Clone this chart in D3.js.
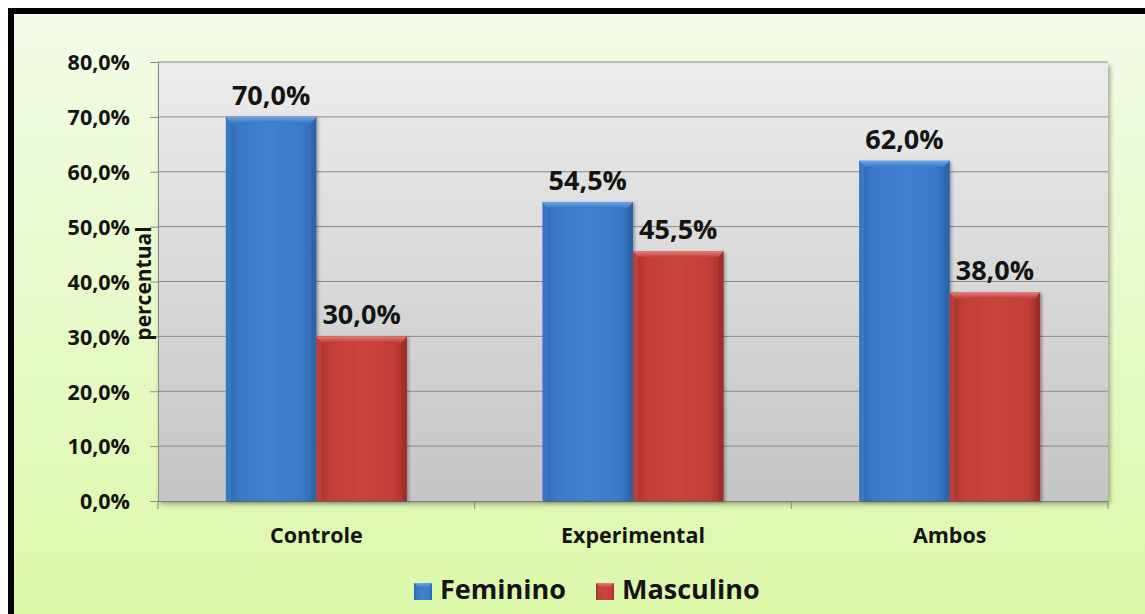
<!DOCTYPE html>
<html>
<head>
<meta charset="utf-8">
<script src="https://cdn.jsdelivr.net/npm/d3@7"></script>
<style>
  html, body { margin: 0; padding: 0; background: #ffffff; }
  svg { display: block; }
  text { font-family: "Open Sans", "DejaVu Sans", sans-serif; font-weight: 700; fill: #141414; }
</style>
</head>
<body>
<svg id="chart" width="1145" height="614"></svg>
<script>
// Percentages by group and sex
const categories = ["Controle", "Experimental", "Ambos"];
const seriesNames = ["Feminino", "Masculino"];
const feminino = [70.0, 54.5, 62.0];
const masculino = [30.0, 45.5, 38.0];
const yTicks = [0, 10, 20, 30, 40, 50, 60, 70, 80];

const seriesValues = [feminino, masculino];
const fmt = v => v.toFixed(1).replace(".", ",") + "%";

const W = 1145, H = 614;
const plot = { left: 158, top: 62, right: 1108, bottom: 501 };

const svg = d3.select("#chart");
const defs = svg.append("defs");

// Background gradients
const bg = defs.append("linearGradient").attr("id", "bgGrad").attr("x1", 0).attr("y1", 0).attr("x2", 0).attr("y2", 1);
bg.append("stop").attr("offset", "0%").attr("stop-color", "#f3fce9");
bg.append("stop").attr("offset", "100%").attr("stop-color", "#dbf8a8");

const pg = defs.append("linearGradient").attr("id", "plotGrad").attr("x1", 0).attr("y1", 0).attr("x2", 0).attr("y2", 1);
pg.append("stop").attr("offset", "0%").attr("stop-color", "#ececec");
pg.append("stop").attr("offset", "100%").attr("stop-color", "#c5c5c5");

const shadow = defs.append("filter").attr("id", "plotShadow").attr("x", "-5%").attr("y", "-5%").attr("width", "110%").attr("height", "115%");
shadow.append("feDropShadow").attr("dx", 2).attr("dy", 3).attr("stdDeviation", 2.5).attr("flood-color", "#000").attr("flood-opacity", 0.35);

const barShadow = defs.append("filter").attr("id", "barShadow").attr("x", "-10%").attr("y", "-10%").attr("width", "130%").attr("height", "120%");
barShadow.append("feDropShadow").attr("dx", 2).attr("dy", 1).attr("stdDeviation", 1.5).attr("flood-color", "#000").attr("flood-opacity", 0.3);

// Bar palettes
const palette = {
  Feminino: { edge: "#2f66ad", mid: "#3a78c8", center: "#4081d0", top: "#6ea8ea", left: "#4d8fdc", right: "#2a5d9f" },
  Masculino: { edge: "#a52f2b", mid: "#c23e38", center: "#c9453f", top: "#e67e78", left: "#d65953", right: "#962926" }
};
seriesNames.forEach(s => {
  const p = palette[s];
  const g = defs.append("linearGradient").attr("id", "bar-" + s).attr("x1", 0).attr("y1", 0).attr("x2", 1).attr("y2", 0);
  g.append("stop").attr("offset", "0%").attr("stop-color", p.edge);
  g.append("stop").attr("offset", "15%").attr("stop-color", p.mid);
  g.append("stop").attr("offset", "50%").attr("stop-color", p.center);
  g.append("stop").attr("offset", "85%").attr("stop-color", p.mid);
  g.append("stop").attr("offset", "100%").attr("stop-color", p.edge);
  const t = defs.append("linearGradient").attr("id", "top-" + s).attr("x1", 0).attr("y1", 0).attr("x2", 0).attr("y2", 1);
  t.append("stop").attr("offset", "0%").attr("stop-color", p.top);
  t.append("stop").attr("offset", "100%").attr("stop-color", p.mid);
});

// Chart frame
svg.append("rect").attr("x", 11).attr("y", 11).attr("width", W).attr("height", H)
  .attr("fill", "url(#bgGrad)").attr("stroke", "#000").attr("stroke-width", 6);

// Scales
const x0 = d3.scaleBand().domain(categories).range([plot.left, plot.right]).paddingInner(0).paddingOuter(0);
const catW = x0.bandwidth();
const groupW = catW * 2 / 3.5;
const x1 = d3.scaleBand().domain(seriesNames).range([0, groupW]).padding(0);
const y = d3.scaleLinear().domain([0, 80]).range([plot.bottom, plot.top]);

// Plot area
svg.append("rect")
  .attr("x", plot.left).attr("y", plot.top)
  .attr("width", plot.right - plot.left).attr("height", plot.bottom - plot.top)
  .attr("fill", "url(#plotGrad)").attr("filter", "url(#plotShadow)");

// Gridlines
svg.append("g").selectAll("line").data(yTicks.filter(t => t > 0)).join("line")
  .attr("x1", plot.left).attr("x2", plot.right)
  .attr("y1", d => y(d)).attr("y2", d => y(d))
  .attr("stroke", "#8a8a8a").attr("stroke-width", 1);

// Y axis
const yAxis = d3.axisLeft(y).tickValues(yTicks).tickSize(8).tickPadding(20).tickFormat(d => fmt(d));
const yg = svg.append("g").attr("transform", `translate(${plot.left},0)`).call(yAxis);
yg.select(".domain").attr("stroke", "#8a8a8a");
yg.selectAll(".tick line").attr("stroke", "#8a8a8a");
yg.selectAll(".tick text").attr("font-size", 21.5).attr("font-family", "\"Open Sans\", sans-serif")
  .attr("font-weight", 700).attr("fill", "#141414").attr("dy", "0.36em");

// X axis
const xAxis = d3.axisBottom(x0).tickSize(0).tickPadding(27);
const xg = svg.append("g").attr("transform", `translate(0,${plot.bottom})`).call(xAxis);
xg.select(".domain").remove();
xg.selectAll(".tick text").attr("font-size", 21.5).attr("font-family", "\"Open Sans\", sans-serif")
  .attr("font-weight", 700).attr("fill", "#141414");
// category separators
svg.append("g").selectAll("line").data(categories.map(c => x0(c)).concat([plot.right])).join("line")
  .attr("x1", d => d).attr("x2", d => d)
  .attr("y1", plot.bottom).attr("y2", plot.bottom + 8)
  .attr("stroke", "#8a8a8a");
svg.append("line").attr("x1", plot.left).attr("x2", plot.right)
  .attr("y1", plot.bottom + 0.5).attr("y2", plot.bottom + 0.5).attr("stroke", "#7a7a7a");

// Bars
const rows = [];
categories.forEach((c, i) => seriesNames.forEach((s, j) => rows.push({ cat: c, series: s, value: seriesValues[j][i] })));

const offset = (catW - groupW) / 2;
const bars = svg.append("g").selectAll("g").data(rows).join("g")
  .attr("transform", d => `translate(${x0(d.cat) + offset + x1(d.series)},0)`);

const bw = x1.bandwidth();
const bev = 5;
bars.append("rect")
  .attr("x", 0).attr("y", d => y(d.value))
  .attr("width", bw).attr("height", d => plot.bottom - y(d.value))
  .attr("fill", d => `url(#bar-${d.series})`).attr("filter", "url(#barShadow)");
// bevel: top edge
bars.append("path")
  .attr("d", d => {
    const t = y(d.value);
    return `M0,${t}L${bw},${t}L${bw - bev},${t + bev + 1}L${bev},${t + bev + 1}Z`;
  })
  .attr("fill", d => `url(#top-${d.series})`);
// bevel: left edge
bars.append("path")
  .attr("d", d => {
    const t = y(d.value);
    return `M0,${t}L${bev},${t + bev + 1}L${bev},${plot.bottom}L0,${plot.bottom}Z`;
  })
  .attr("fill", d => palette[d.series].left).attr("opacity", 0.35);
// bevel: right edge
bars.append("path")
  .attr("d", d => {
    const t = y(d.value);
    return `M${bw},${t}L${bw - bev},${t + bev + 1}L${bw - bev},${plot.bottom}L${bw},${plot.bottom}Z`;
  })
  .attr("fill", d => palette[d.series].right).attr("opacity", 0.5);

// Value labels
bars.append("text")
  .attr("x", bw / 2).attr("y", d => y(d.value) - 12)
  .attr("text-anchor", "middle").attr("font-size", 27)
  .text(d => fmt(d.value));

// Y axis title
svg.append("text")
  .attr("transform", `translate(151,${(y(50) + y(30)) / 2 + 2}) rotate(-90)`)
  .attr("text-anchor", "middle").attr("font-size", 21)
  .text("percentual");

// Legend
const legendItems = [
  { name: "Feminino", x: 414 },
  { name: "Masculino", x: 596 }
];
const lg = svg.append("g").selectAll("g").data(legendItems).join("g")
  .attr("transform", d => `translate(${d.x},583)`);
lg.append("rect").attr("width", 18).attr("height", 17)
  .attr("fill", d => `url(#bar-${d.name})`);
lg.append("path").attr("d", "M0,0L18,0L13,5L5,5Z").attr("fill", d => `url(#top-${d.name})`);
lg.append("text").attr("x", 26).attr("y", 16).attr("font-size", 27).text(d => d.name);
</script>
</body>
</html>
